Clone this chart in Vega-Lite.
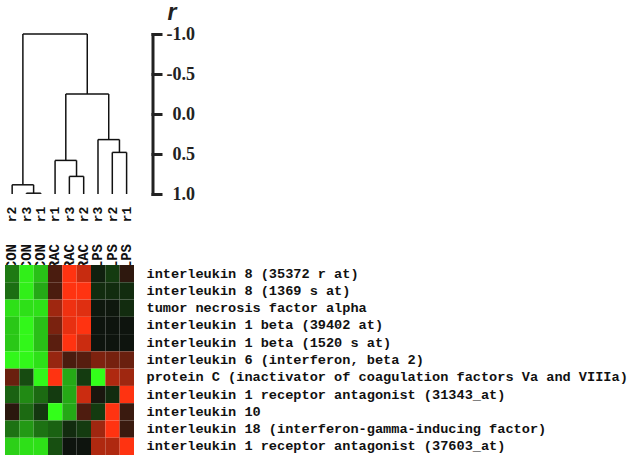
{
  "$schema": "https://vega.github.io/schema/vega-lite/v6.json",
  "background": "white",
  "padding": {"left": 5, "top": 1, "right": 5, "bottom": 5},
  "bounds": "flush",
  "spacing": 0,
  "config": {"view": {"stroke": null}},
  "datasets": {
    "tree": [
      {"xa": 1, "xb": 1, "ra": 1.0, "rb": 0.99},
      {"xa": 2, "xb": 2, "ra": 1.0, "rb": 0.99},
      {"xa": 1, "xb": 2, "ra": 0.99, "rb": 0.99},
      {"xa": 0, "xb": 0, "ra": 1.0, "rb": 0.885},
      {"xa": 1.5, "xb": 1.5, "ra": 0.99, "rb": 0.885},
      {"xa": 0, "xb": 1.5, "ra": 0.885, "rb": 0.885},
      {"xa": 4, "xb": 4, "ra": 1.0, "rb": 0.78},
      {"xa": 5, "xb": 5, "ra": 1.0, "rb": 0.78},
      {"xa": 4, "xb": 5, "ra": 0.78, "rb": 0.78},
      {"xa": 3, "xb": 3, "ra": 1.0, "rb": 0.58},
      {"xa": 4.5, "xb": 4.5, "ra": 0.78, "rb": 0.58},
      {"xa": 3, "xb": 4.5, "ra": 0.58, "rb": 0.58},
      {"xa": 7, "xb": 7, "ra": 1.0, "rb": 0.48},
      {"xa": 8, "xb": 8, "ra": 1.0, "rb": 0.48},
      {"xa": 7, "xb": 8, "ra": 0.48, "rb": 0.48},
      {"xa": 6, "xb": 6, "ra": 1.0, "rb": 0.32},
      {"xa": 7.5, "xb": 7.5, "ra": 0.48, "rb": 0.32},
      {"xa": 6, "xb": 7.5, "ra": 0.32, "rb": 0.32},
      {"xa": 3.75, "xb": 3.75, "ra": 0.58, "rb": -0.25},
      {"xa": 6.75, "xb": 6.75, "ra": 0.32, "rb": -0.25},
      {"xa": 3.75, "xb": 6.75, "ra": -0.25, "rb": -0.25},
      {"xa": 0.75, "xb": 0.75, "ra": 0.885, "rb": -1.0},
      {"xa": 5.25, "xb": 5.25, "ra": -0.25, "rb": -1.0},
      {"xa": 0.75, "xb": 5.25, "ra": -1.0, "rb": -1.0}
    ],
    "cols": [
      {"col": "CON r2", "grp": "CON", "rep": "r2"},
      {"col": "CON r3", "grp": "CON", "rep": "r3"},
      {"col": "CON r1", "grp": "CON", "rep": "r1"},
      {"col": "RAC r1", "grp": "RAC", "rep": "r1"},
      {"col": "RAC r3", "grp": "RAC", "rep": "r3"},
      {"col": "RAC r2", "grp": "RAC", "rep": "r2"},
      {"col": "LPS r3", "grp": "LPS", "rep": "r3"},
      {"col": "LPS r2", "grp": "LPS", "rep": "r2"},
      {"col": "LPS r1", "grp": "LPS", "rep": "r1"}
    ],
    "cells": [
      {"gene": "interleukin 8 (35372 r at)", "CON r2": -1.3, "CON r3": -2.8, "CON r1": -2.2, "RAC r1": 0.75, "RAC r3": 3, "RAC r2": 2.3, "LPS r3": -0.15, "LPS r2": -0.5, "LPS r1": 0.4},
      {"gene": "interleukin 8 (1369 s at)", "CON r2": -1.15, "CON r3": -2.8, "CON r1": -1.9, "RAC r1": 0.75, "RAC r3": 3, "RAC r2": 3, "LPS r3": -0.3, "LPS r2": -0.3, "LPS r1": -0.3},
      {"gene": "tumor necrosis factor alpha", "CON r2": -2.6, "CON r3": -2.6, "CON r1": -2.6, "RAC r1": 1.8, "RAC r3": 2.8, "RAC r2": 2.6, "LPS r3": -0.05, "LPS r2": -0.05, "LPS r1": -0.3},
      {"gene": "interleukin 1 beta (39402 at)", "CON r2": -2.3, "CON r3": -2.9, "CON r1": -2.2, "RAC r1": 1.35, "RAC r3": 2.7, "RAC r2": 3, "LPS r3": 0, "LPS r2": 0, "LPS r1": 0},
      {"gene": "interleukin 1 beta (1520 s at)", "CON r2": -2.3, "CON r3": -2.9, "CON r1": -2.2, "RAC r1": 0.95, "RAC r3": 3, "RAC r2": 2.35, "LPS r3": 0, "LPS r2": 0, "LPS r1": 0},
      {"gene": "interleukin 6 (interferon, beta 2)", "CON r2": -2.9, "CON r3": -2.9, "CON r1": -2.6, "RAC r1": 1.7, "RAC r3": 0.75, "RAC r2": 0.9, "LPS r3": 1.4, "LPS r2": 1.3, "LPS r1": 1.15},
      {"gene": "protein C (inactivator of coagulation factors Va and VIIIa)", "CON r2": 1.15, "CON r3": -0.7, "CON r1": -2.9, "RAC r1": 3, "RAC r3": -1.9, "RAC r2": -0.5, "LPS r3": -3, "LPS r2": 2.0, "LPS r1": 1.8},
      {"gene": "interleukin 1 receptor antagonist (31343_at)", "CON r2": -1.0, "CON r3": -1.5, "CON r1": -1.1, "RAC r1": -0.5, "RAC r3": -1.9, "RAC r2": 2.35, "LPS r3": 0.15, "LPS r2": -0.3, "LPS r1": 3},
      {"gene": "interleukin 10", "CON r2": 0.35, "CON r3": -1.1, "CON r1": -0.45, "RAC r1": -3, "RAC r3": -1.9, "RAC r2": 0.8, "LPS r3": -0.5, "LPS r2": 3, "LPS r1": 0.55},
      {"gene": "interleukin 18 (interferon-gamma-inducing factor)", "CON r2": -1.2, "CON r3": -1.7, "CON r1": -1.2, "RAC r1": -1.0, "RAC r3": -0.3, "RAC r2": -0.5, "LPS r3": 1.8, "LPS r2": 3, "LPS r1": 0.55},
      {"gene": "interleukin 1 receptor antagonist (37603_at)", "CON r2": -2.4, "CON r3": -2.6, "CON r1": -2.6, "RAC r1": -0.75, "RAC r3": 0, "RAC r2": 0, "LPS r3": 2.0, "LPS r2": 2.0, "LPS r1": 3}
    ]
  },
  "vconcat": [
    {
      "width": 147.5,
      "height": 160,
      "data": {"name": "tree"},
      "mark": {"type": "rule", "stroke": "#111111", "strokeWidth": 1.5},
      "encoding": {
        "x": {"field": "xa", "type": "quantitative", "scale": {"domain": [-0.5, 9.81], "nice": false, "zero": false}, "axis": null},
        "x2": {"field": "xb"},
        "y": {
          "field": "ra", "type": "quantitative",
          "scale": {"domain": [-1, 1], "reverse": true, "nice": false, "zero": false},
          "axis": {
            "orient": "right",
            "values": [-1, -0.5, 0, 0.5, 1],
            "labelExpr": "(datum.value < 0 ? '-' : '') + format(abs(datum.value), '.1f')",
            "grid": false,
            "domainWidth": 3, "domainColor": "#222222", "domainCap": "square",
            "tickWidth": 3, "tickColor": "#222222", "tickSize": 8, "tickCap": "square",
            "labelAlign": "right", "labelPadding": 34, "labelBaseline": "middle",
            "labelFont": "Liberation Sans Narrow", "labelFontWeight": "bold", "labelFontSize": 18, "labelColor": "#222222",
            "labelFlush": false, "labelOverlap": false,
            "title": "r", "titleAngle": 0, "titleFont": "Liberation Sans", "titleFontStyle": "italic", "titleFontWeight": "bold",
            "titleFontSize": 23, "titleColor": "#222222", "titleX": 19, "titleY": -15, "titleAlign": "center", "titleBaseline": "alphabetic"
          }
        },
        "y2": {"field": "rb"}
      }
    },
    {
      "width": 129,
      "height": 71,
      "data": {"name": "cols"},
      "layer": [
        {
          "mark": {"type": "text", "angle": 270, "font": "Liberation Mono", "fontWeight": "bold", "fontSize": 13, "align": "center", "baseline": "middle", "color": "#111111"},
          "encoding": {
            "x": {"field": "col", "type": "nominal", "sort": ["CON r2", "CON r3", "CON r1", "RAC r1", "RAC r3", "RAC r2", "LPS r3", "LPS r2", "LPS r1"], "axis": null, "scale": {"type": "point", "padding": 0.5}},
            "y": {"datum": 0.711, "type": "quantitative", "scale": {"domain": [0, 1], "nice": false, "zero": false}, "axis": null},
            "text": {"field": "rep"}
          }
        },
        {
          "mark": {"type": "text", "angle": 270, "font": "Liberation Mono", "fontWeight": "bold", "fontSize": 14, "align": "left", "baseline": "middle", "color": "#111111", "clip": true},
          "encoding": {
            "x": {"field": "col", "type": "nominal", "sort": ["CON r2", "CON r3", "CON r1", "RAC r1", "RAC r3", "RAC r2", "LPS r3", "LPS r2", "LPS r1"], "axis": null, "scale": {"type": "point", "padding": 0.5}},
            "y": {"datum": -0.06, "type": "quantitative", "axis": null},
            "text": {"field": "grp"}
          }
        }
      ]
    },
    {
      "width": 129,
      "height": 190,
      "data": {"name": "cells"},
      "transform": [{"fold": ["CON r2", "CON r3", "CON r1", "RAC r1", "RAC r3", "RAC r2", "LPS r3", "LPS r2", "LPS r1"], "as": ["col", "v"]}],
      "mark": {"type": "rect"},
      "encoding": {
        "x": {"field": "col", "type": "nominal", "sort": ["CON r2", "CON r3", "CON r1", "RAC r1", "RAC r3", "RAC r2", "LPS r3", "LPS r2", "LPS r1"], "axis": null, "scale": {"paddingInner": 0, "paddingOuter": 0}},
        "y": {
          "field": "gene", "type": "nominal", "sort": null,
          "scale": {"paddingInner": 0, "paddingOuter": 0},
          "axis": {"orient": "right", "title": null, "ticks": false, "domain": false, "labelFont": "Liberation Mono", "labelFontWeight": "bold", "labelFontSize": 13.6, "labelPadding": 12, "labelLimit": 700, "labelColor": "#111111", "labelBaseline": "middle"}
        },
        "color": {
          "field": "v", "type": "quantitative",
          "scale": {"domain": [-3, 0, 3], "range": ["#33ff1a", "#0e140e", "#ff3311"], "interpolate": "rgb"},
          "legend": null
        }
      }
    }
  ]
}
